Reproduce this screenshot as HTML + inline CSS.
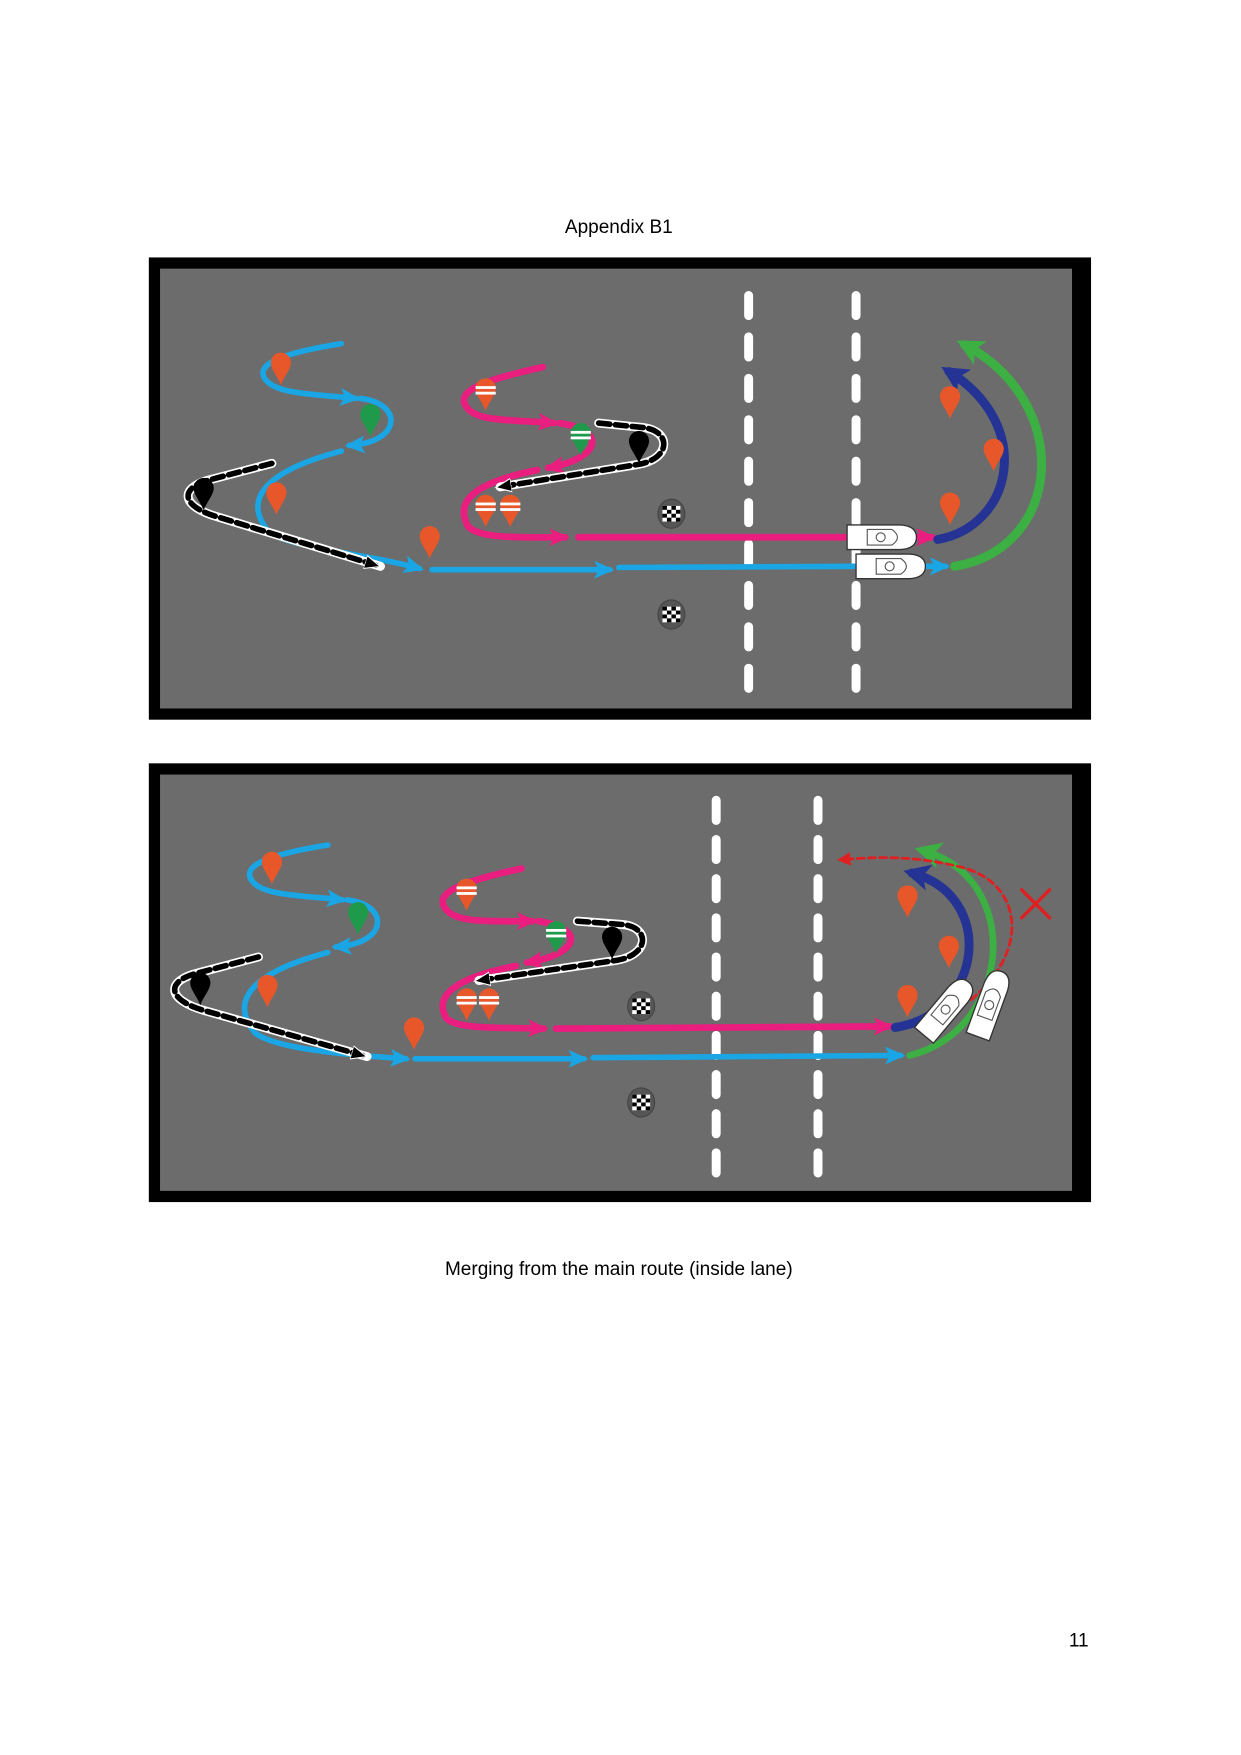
<!DOCTYPE html>
<html><head><meta charset="utf-8"><style>
html,body{margin:0;padding:0;background:#fff;}
svg{display:block;}
</style></head><body>
<svg width="1241" height="1755" viewBox="0 0 1109 1568" preserveAspectRatio="none" xmlns="http://www.w3.org/2000/svg">
<defs>
<marker id="ab" markerUnits="userSpaceOnUse" markerWidth="24" markerHeight="24" refX="14" refY="10" orient="auto"><path d="M0,2 L18,10 L0,18 L4,10Z" fill="#1aa6e4"/></marker>
<marker id="ap" markerUnits="userSpaceOnUse" markerWidth="24" markerHeight="24" refX="14" refY="10" orient="auto"><path d="M0,2 L18,10 L0,18 L4,10Z" fill="#e91e7f"/></marker>
<marker id="ak" markerUnits="userSpaceOnUse" markerWidth="20" markerHeight="20" refX="10" refY="8" orient="auto"><path d="M0,2 L14,8 L0,14Z" fill="#000" stroke="#fff" stroke-width="1"/></marker>
<marker id="an" markerUnits="userSpaceOnUse" markerWidth="30" markerHeight="30" refX="16" refY="14" orient="auto"><path d="M0,2 L24,14 L0,26 L6,14Z" fill="#253494"/></marker>
<marker id="ag" markerUnits="userSpaceOnUse" markerWidth="30" markerHeight="30" refX="16" refY="14" orient="auto"><path d="M0,2 L24,14 L0,26 L6,14Z" fill="#3cb043"/></marker>
<marker id="ar" markerUnits="userSpaceOnUse" markerWidth="16" markerHeight="16" refX="8" refY="6" orient="auto"><path d="M0,0 L12,6 L0,12Z" fill="#e02020"/></marker>
<path id="drop" d="M0,14 C-3,6 -9,0 -9,-6 A9,9 0 0 1 9,-6 C9,0 3,6 0,14Z"/>
<g id="sdrop"><use href="#drop" fill="#e8572a"/><rect x="-9" y="-8" width="18" height="2.5" fill="#fff"/><rect x="-9" y="-3" width="18" height="2.5" fill="#fff"/></g>
<g id="gsdrop"><use href="#drop" fill="#1f9a4a"/><rect x="-9" y="-8" width="18" height="2.5" fill="#fff"/><rect x="-9" y="-3" width="18" height="2.5" fill="#fff"/></g>
<g id="chk"><ellipse cx="0" cy="0" rx="12" ry="13" fill="#555" stroke="#444"/>
<rect x="-8" y="-7" width="16" height="14" fill="#fff"/>
<rect x="-8" y="-7" width="4" height="3.5" fill="#000"/><rect x="0" y="-7" width="4" height="3.5" fill="#000"/>
<rect x="-4" y="-3.5" width="4" height="3.5" fill="#000"/><rect x="4" y="-3.5" width="4" height="3.5" fill="#000"/>
<rect x="-8" y="0" width="4" height="3.5" fill="#000"/><rect x="0" y="0" width="4" height="3.5" fill="#000"/>
<rect x="-4" y="3.5" width="4" height="3.5" fill="#000"/><rect x="4" y="3.5" width="4" height="3.5" fill="#000"/></g>
<g id="boat"><path d="M-30,-11 L18,-11 Q32,-10 32,0 Q32,10 18,11 L-30,11Z" fill="#fff" stroke="#333" stroke-width="1.2"/>
<path d="M-12,-7 L10,-7 Q20,0 10,7 L-12,7Z" fill="none" stroke="#555" stroke-width="1"/><circle cx="0" cy="0" r="4" fill="none" stroke="#555"/></g>
</defs>
<text x="553" y="208" font-family="Liberation Sans, sans-serif" font-size="17" text-anchor="middle">Appendix B1</text>
<text x="553" y="1139" font-family="Liberation Sans, sans-serif" font-size="17" text-anchor="middle">Merging from the main route (inside lane)</text>
<text x="964" y="1471" font-family="Liberation Sans, sans-serif" font-size="17" text-anchor="middle">11</text>

<!-- Panel 1 -->
<rect x="133" y="230" width="842" height="413" fill="#000"/>
<rect x="143" y="240" width="815" height="393" fill="#6b6c6b"/>
<g stroke="#fff" stroke-width="8" stroke-linecap="round" stroke-dasharray="18,19">
<line x1="669" y1="264" x2="669" y2="620"/><line x1="765" y1="264" x2="765" y2="620"/></g>
<g fill="none" stroke-linecap="round">
<path d="M305,307 C255,315 225,325 238,340 C248,352 280,352 318,356" stroke="#1aa6e4" stroke-width="5" marker-end="url(#ab)"/>
<path d="M322,356 C360,360 360,395 312,398" stroke="#1aa6e4" stroke-width="5" marker-end="url(#ab)"/>
<path d="M305,403 C240,420 215,445 240,475 C260,490 330,495 375,508" stroke="#1aa6e4" stroke-width="5" marker-end="url(#ab)"/>
<path d="M386,509 L545,509" stroke="#1aa6e4" stroke-width="5" marker-end="url(#ab)"/>
<path d="M553,507 L765,506" stroke="#1aa6e4" stroke-width="5"/>
<path d="M820,506 L845,506" stroke="#1aa6e4" stroke-width="5" marker-end="url(#ab)"/>
<path d="M485,328 C430,340 405,350 418,365 C428,377 460,375 495,378" stroke="#e91e7f" stroke-width="6" marker-end="url(#ap)"/>
<path d="M500,378 C545,385 535,410 490,418" stroke="#e91e7f" stroke-width="6" marker-end="url(#ap)"/>
<path d="M480,420 C430,430 405,445 418,470 C428,482 470,480 505,480" stroke="#e91e7f" stroke-width="6" marker-end="url(#ap)"/>
<path d="M517,480 L760,480" stroke="#e91e7f" stroke-width="6"/>
<path d="M815,480 L833,480" stroke="#e91e7f" stroke-width="6" marker-end="url(#ap)"/>
<path d="M243,414 L190,428 C160,435 160,452 195,462 L340,506" stroke="#fff" stroke-width="8"/>
<path d="M243,414 L190,428 C160,435 160,452 195,462 L336,505" stroke="#000" stroke-width="5" stroke-dasharray="10,5" marker-end="url(#ak)"/>
<path d="M447,435 L570,415 C600,410 600,385 575,382 L535,378" stroke="#fff" stroke-width="8"/>
<path d="M535,378 L575,382 C600,385 600,410 570,415 L447,435" stroke="#000" stroke-width="5" stroke-dasharray="10,5" marker-end="url(#ak)"/>
<path d="M838,482 C905,470 925,380 848,332" stroke="#253494" stroke-width="8" marker-end="url(#an)"/>
<path d="M853,506 C950,490 960,360 862,308" stroke="#3cb043" stroke-width="8" marker-end="url(#ag)"/>
</g>
<g fill="#e8572a"><use href="#drop" x="251" y="330"/><use href="#drop" x="247" y="446"/><use href="#drop" x="384" y="485"/><use href="#drop" x="849" y="360"/><use href="#drop" x="888" y="407"/><use href="#drop" x="849" y="455"/></g>
<use href="#sdrop" x="434" y="353"/><use href="#sdrop" x="434" y="457"/><use href="#sdrop" x="456" y="457"/>
<use href="#drop" x="331" y="376" fill="#1f9a4a"/><use href="#gsdrop" x="519" y="393"/>
<use href="#drop" x="182" y="442" fill="#000"/><use href="#drop" x="571" y="400" fill="#000"/>
<use href="#chk" x="600" y="459"/><use href="#chk" x="600" y="549"/>
<use href="#boat" x="787" y="480"/><use href="#boat" x="795" y="506"/>

<!-- Panel 2 -->
<rect x="133" y="682" width="842" height="392" fill="#000"/>
<rect x="143" y="692" width="815" height="372" fill="#6b6c6b"/>
<g stroke="#fff" stroke-width="8" stroke-linecap="round" stroke-dasharray="18,17">
<line x1="640" y1="715" x2="640" y2="1052"/><line x1="731" y1="715" x2="731" y2="1052"/></g>
<g fill="none" stroke-linecap="round" transform="translate(-12,448)">
<path d="M305,307 C255,315 225,325 238,340 C248,352 280,352 318,356" stroke="#1aa6e4" stroke-width="5" marker-end="url(#ab)"/>
<path d="M322,356 C360,360 360,395 312,398" stroke="#1aa6e4" stroke-width="5" marker-end="url(#ab)"/>
<path d="M305,403 C240,420 215,445 240,475 C260,490 330,495 375,498" stroke="#1aa6e4" stroke-width="5" marker-end="url(#ab)"/>
<path d="M243,407 L190,421 C160,428 160,445 195,455 L340,496" stroke="#fff" stroke-width="8"/>
<path d="M243,407 L190,421 C160,428 160,445 195,455 L336,495" stroke="#000" stroke-width="5" stroke-dasharray="10,5" marker-end="url(#ak)"/>
</g>
<g fill="none" stroke-linecap="round" transform="translate(-19,448)">
<path d="M485,328 C430,340 405,350 418,365 C428,377 460,375 495,375" stroke="#e91e7f" stroke-width="6" marker-end="url(#ap)"/>
<path d="M500,375 C545,382 535,405 490,412" stroke="#e91e7f" stroke-width="6" marker-end="url(#ap)"/>
<path d="M480,415 C430,425 405,440 418,462 C428,472 470,470 505,471" stroke="#e91e7f" stroke-width="6" marker-end="url(#ap)"/>
<path d="M447,428 L570,410 C600,405 600,380 575,378 L535,375" stroke="#fff" stroke-width="8"/>
<path d="M535,375 L575,378 C600,380 600,405 570,410 L447,428" stroke="#000" stroke-width="5" stroke-dasharray="10,5" marker-end="url(#ak)"/>
</g>
<g fill="none" stroke-linecap="round">
<path d="M371,946 L522,946" stroke="#1aa6e4" stroke-width="5" marker-end="url(#ab)"/>
<path d="M530,945 L805,943" stroke="#1aa6e4" stroke-width="5" marker-end="url(#ab)"/>
<path d="M497,919 L795,917" stroke="#e91e7f" stroke-width="6" marker-end="url(#ap)"/>
<path d="M800,918 C880,905 890,800 815,780" stroke="#253494" stroke-width="8" marker-end="url(#an)"/>
<path d="M813,943 C905,920 915,785 825,760" stroke="#3cb043" stroke-width="6" marker-end="url(#ag)"/>
<path d="M868,893 C920,850 915,790 860,775 C820,765 790,765 752,768" stroke="#e02020" stroke-width="2.5" stroke-dasharray="6,4" marker-end="url(#ar)"/>
<path d="M913,795 L938,820 M938,795 L913,820" stroke="#e02020" stroke-width="3"/>
</g>
<g fill="#e8572a"><use href="#drop" x="243" y="776"/><use href="#drop" x="239" y="886"/><use href="#drop" x="370" y="924"/><use href="#drop" x="811" y="806"/><use href="#drop" x="848" y="851"/><use href="#drop" x="811" y="895"/></g>
<use href="#sdrop" x="417" y="800"/><use href="#sdrop" x="417" y="898"/><use href="#sdrop" x="437" y="898"/>
<use href="#drop" x="320" y="821" fill="#1f9a4a"/><use href="#gsdrop" x="497" y="838"/>
<use href="#drop" x="179" y="884" fill="#000"/><use href="#drop" x="547" y="843" fill="#000"/>
<use href="#chk" x="573" y="899"/><use href="#chk" x="573" y="985"/>
<g transform="translate(845,902) rotate(-50)"><use href="#boat"/></g>
<g transform="translate(884,898) rotate(-70)"><use href="#boat"/></g>
</svg>
</body></html>
